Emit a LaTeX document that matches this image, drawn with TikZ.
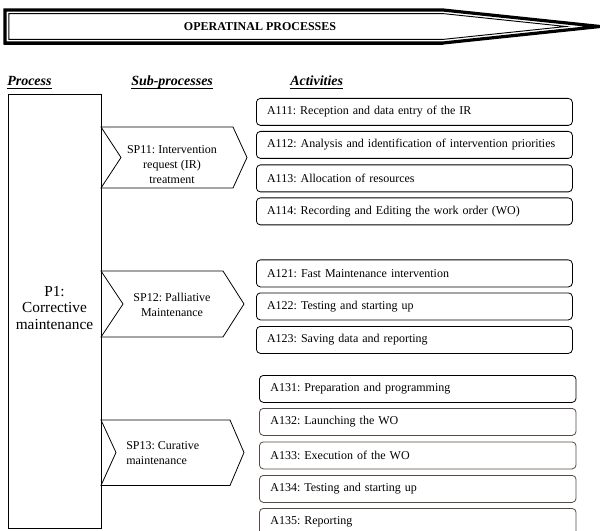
\documentclass[tikz,border=0pt]{standalone}
\usepackage{fontspec}
\setmainfont{Liberation Serif}
\definecolor{brd}{RGB}{85,75,70}
\begin{document}
\frenchspacing
\begin{tikzpicture}[x=0.75pt,y=-0.75pt,
  act/.style={draw, rounded corners=3pt, line width=0.6pt, anchor=north west,
    minimum height=20.25pt, inner xsep=8pt, inner ysep=0pt, text width=221pt,
    align=left, font=\fontsize{9}{11}\selectfont},
  actb/.style={act, draw=brd},
  hdr/.style={anchor=base west, inner sep=0pt, font=\fontsize{10.5}{12}\selectfont\bfseries\itshape},
  chev/.style={draw, line width=0.6pt},
  sptext/.style={font=\fontsize{9}{11.3}\selectfont, inner sep=0pt}
]
\useasboundingbox (0,0) rectangle (600,531);

% title arrow
\draw[line width=2.4pt, line join=miter, miter limit=30] (5,10) -- (443,10) -- (600,26.5) -- (443,43) -- (5,43) -- cycle;
\draw[line width=1.2pt] (4.5,11) -- (4.5,44) -- (443,44);
\draw[line width=0.7pt, line join=miter, miter limit=30] (8.8,13.6) -- (443,13.6) -- (566,26.5) -- (443,39.4) -- (8.8,39.4) -- cycle;
\node[font=\fontsize{9}{11}\selectfont\bfseries] (title) at (260,26.5) {OPERATINAL PROCESSES};

% headers
\node[hdr] (hp) at (7,86) {Process};
\node[hdr] (hs) at (131,86) {Sub-processes};
\node[hdr] (ha) at (290,86) {Activities};
\foreach \h in {hp,hs,ha}{\draw[line width=0.6pt] ([yshift=-1.6pt]\h.base west) -- ([yshift=-1.6pt]\h.base east);}

% process box
\node[draw, line width=0.7pt, anchor=north west, minimum width=69.75pt, minimum height=325.5pt] (p1) at (8,94) {};
\node[align=center, font=\fontsize{11.5}{12.2}\selectfont] (p1t) at (54.5,308) {P1:\\Corrective\\maintenance};

% sub-process chevrons
\draw[chev] (101,127) -- (233,127) -- (247,157.5) -- (233,188) -- (101,188) -- (121,157.5) -- cycle;
\node[sptext, align=center] (sp11) at (172,165) {SP11: Intervention\\request (IR)\\treatment};
\draw[chev] (101,271) -- (223,271) -- (244,304) -- (223,337) -- (101,337) -- (123,304) -- cycle;
\node[sptext, align=center] (sp12) at (172,305) {SP12: Palliative\\Maintenance};
\draw[chev] (101,420) -- (230,420) -- (244,452.5) -- (230,485.5) -- (101,485.5) -- (116,452.5) -- cycle;
\node[sptext, align=left, anchor=west] (sp13) at (126,453) {SP13: Curative\\maintenance};

% activities
\node[act] (a111) at (256,98) {A111: Reception and data entry of the IR};
\node[act] (a112) at (256,131) {A112: Analysis and identification of intervention priorities};
\node[act] (a113) at (256,164.5) {A113: Allocation of resources};
\node[act] (a114) at (256,197.5) {A114: Recording and Editing the work order (WO)};

\node[act] (a121) at (256,259.5) {A121: Fast Maintenance intervention};
\node[act] (a122) at (256,292.5) {A122: Testing and starting up};
\node[act] (a123) at (256,326) {A123: Saving data and reporting};

\node[act, inner xsep=8.25pt] (a131) at (259,375) {A131: Preparation and programming};
\node[actb, inner xsep=8.25pt] (a132) at (259,408) {A132: Launching the WO};
\node[actb, inner xsep=8.25pt] (a133) at (259,441.5) {A133: Execution of the WO};
\node[actb, inner xsep=8.25pt] (a134) at (259,475) {A134: Testing and starting up};
\node[actb, inner xsep=8.25pt] (a135) at (259,508) {A135: Reporting};
\end{tikzpicture}
\end{document}
